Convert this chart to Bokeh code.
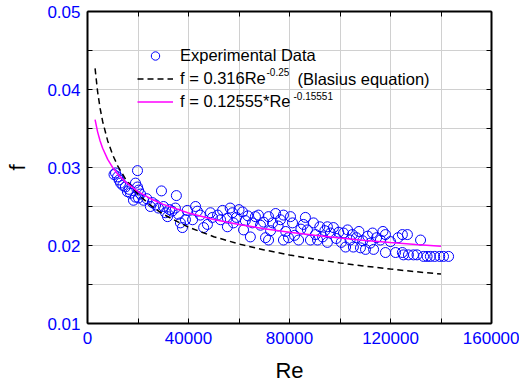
from bokeh.plotting import figure
from bokeh.models import (Range1d, LinearAxis, FixedTicker, PrintfTickFormatter,
                          Legend, LegendItem, Label)
from bokeh.embed import file_html
from bokeh.resources import INLINE

# ---- data ----
exp_re = [10500, 11100, 11900, 12500, 13100, 14000, 15000, 15800, 16500, 17000,
          18200, 19000, 19000, 19800, 19800, 20200, 20200, 21000, 22200, 23500,
          24900, 25700, 27000, 28100, 29300, 30100, 30900, 31700, 32500, 33500,
          34800, 35200, 36000, 36800, 37600, 38800, 39500,
          41600, 42800, 43500, 44700, 46000, 47500, 48700, 49500, 51500, 52700,
          53500, 55400, 55400, 56500, 57400, 57800, 59000, 60000, 61400, 61800,
          62500, 63500, 64500, 65300, 66500,
          67700, 68500, 69700, 70500, 71700, 71700, 72500, 73300, 74500, 75500,
          76400, 77600, 77600, 78500, 79600, 80400, 81200, 82000, 83600, 84500,
          85500, 86300, 87100, 88300, 89500, 90300, 91100, 92000, 93100, 94000,
          95000, 95000, 96200,
          97400, 98500, 99500, 100500, 101400, 102200, 103000, 104000, 104900, 105300,
          106500, 107500, 108100, 109000, 110100, 111000, 112000, 112900, 113300, 114500,
          116000, 117000, 118000, 118000, 120000, 122000, 123000, 124700, 124700, 125100,
          126700, 127100, 129100, 130500, 131900, 133100, 134500, 135800, 137500, 139500,
          141000, 143000]
exp_f = [0.0291, 0.0293, 0.0288, 0.0284, 0.0280, 0.0277, 0.0275, 0.0269, 0.0272, 0.0267,
         0.0258, 0.0262, 0.0280, 0.0275, 0.0296, 0.0261, 0.0271, 0.0266, 0.0258, 0.0260,
         0.0250, 0.0255, 0.0252, 0.0248, 0.0270, 0.0250, 0.0242, 0.0237, 0.0246, 0.0244,
         0.0248, 0.0264, 0.0240, 0.0229, 0.0223, 0.0233, 0.0245,
         0.0233, 0.0250, 0.0244, 0.0239, 0.0223, 0.0227, 0.0242, 0.0236, 0.0239, 0.0233,
         0.0245, 0.0235, 0.0224, 0.0248, 0.0242, 0.0229, 0.0236, 0.0246, 0.0243, 0.0220,
         0.0232, 0.0238, 0.0211, 0.0229, 0.0237,
         0.0239, 0.0226, 0.0230, 0.0210, 0.0237, 0.0207, 0.0219, 0.0229, 0.0241, 0.0225,
         0.0233, 0.0239, 0.0207, 0.0218, 0.0210, 0.0237, 0.0229, 0.0213, 0.0207, 0.0221,
         0.0227, 0.0236, 0.0220, 0.0207, 0.0229, 0.0214, 0.0207, 0.0224, 0.0211, 0.0219,
         0.0224, 0.0204, 0.0216,
         0.0223, 0.0209, 0.0217, 0.0204, 0.0216, 0.0198, 0.0220, 0.0207, 0.0214, 0.0198,
         0.0210, 0.0218, 0.0197, 0.0206, 0.0195, 0.0212, 0.0203, 0.0216, 0.0195, 0.0210,
         0.0207, 0.0218, 0.0214, 0.0191, 0.0205, 0.0191, 0.0210, 0.0214, 0.0191, 0.0188,
         0.0214, 0.0188, 0.0188, 0.0188, 0.0207, 0.0186, 0.0186, 0.0186, 0.0186, 0.0186,
         0.0186, 0.0186]

curve_re = [3000, 4000, 5000, 6000, 8000, 10000, 12000, 15000, 20000, 25000, 30000,
            40000, 50000, 60000, 70000, 80000, 90000, 100000, 110000, 120000, 130000, 140000]
blasius_f = [0.04270, 0.03973, 0.03758, 0.03590, 0.03341, 0.03160, 0.03019, 0.02855,
             0.02657, 0.02513, 0.02401, 0.02234, 0.02113, 0.02019, 0.01943, 0.01879,
             0.01824, 0.01777, 0.01735, 0.01698, 0.01664, 0.01634]
fit_f = [0.03615, 0.03457, 0.03339, 0.03246, 0.03104, 0.02998, 0.02914, 0.02815,
         0.02691, 0.02600, 0.02527, 0.02416, 0.02334, 0.02269, 0.02215, 0.02170,
         0.02130, 0.02096, 0.02065, 0.02037, 0.02012, 0.01989]

x_major = [0, 40000, 80000, 120000, 160000]
x_minor = [20000, 60000, 100000, 140000]
y_major = [0.01, 0.02, 0.03, 0.04, 0.05]
y_minor = [0.015, 0.025, 0.035, 0.045]

legend_labels = ["Experimental Data", "f = 0.316Re", "f = 0.12555*Re"]
blasius_exp = "-0.25"
blasius_note = "(Blasius equation)"
fit_exp = "-0.15551"

FONT = "Liberation Sans"
BLUE = "#0000ff"
GRID = "#d0d0d0"

p = figure(width=519, height=385, output_backend="svg", toolbar_location=None,
           x_range=Range1d(0, 160000), y_range=Range1d(0.01, 0.05),
           min_border_left=87, min_border_right=28, min_border_top=11,
           min_border_bottom=61, background_fill_color="white",
           border_fill_color="white")
p.outline_line_color = None

xt = FixedTicker(ticks=x_major, minor_ticks=x_minor)
yt = FixedTicker(ticks=y_major, minor_ticks=y_minor)

for g in (p.xgrid, p.ygrid):
    g.grid_line_color = GRID
    g.grid_line_width = 1
    g.minor_grid_line_color = GRID
    g.minor_grid_line_width = 1
p.xgrid.ticker = xt
p.ygrid.ticker = yt

def style_axis(ax, ticker, show_labels):
    ax.ticker = ticker
    ax.axis_line_color = "black"
    ax.axis_line_width = 2
    ax.major_tick_in = 5
    ax.major_tick_out = 0
    ax.minor_tick_in = 5
    ax.minor_tick_out = 0
    ax.major_tick_line_color = "black"
    ax.minor_tick_line_color = "black"
    ax.major_tick_line_width = 1
    ax.minor_tick_line_width = 1
    if show_labels:
        ax.major_label_text_color = BLUE
        ax.major_label_text_font = FONT
        ax.major_label_text_font_size = "17px"
        ax.axis_label_text_font = FONT
        ax.axis_label_text_font_style = "normal"
        ax.axis_label_text_font_size = "22px"
        ax.axis_label_text_color = "black"
    else:
        ax.major_label_text_font_size = "0px"
        ax.major_label_text_color = None

xa = p.xaxis[0]
ya = p.yaxis[0]
style_axis(xa, xt, True)
style_axis(ya, yt, True)
xa.formatter = PrintfTickFormatter(format="%d")
ya.formatter = PrintfTickFormatter(format="%.2f")
xa.axis_label = "Re"
ya.axis_label = "f"
xa.major_label_standoff = 8
ya.major_label_standoff = 7
xa.axis_label_standoff = 11
ya.axis_label_standoff = 14

top = LinearAxis()
right = LinearAxis()
style_axis(top, xt, False)
style_axis(right, yt, False)
p.add_layout(top, "above")
p.add_layout(right, "right")

sc = p.scatter(exp_re, exp_f, marker="circle", size=10, fill_color=None,
               line_color=BLUE, line_width=1)
bl = p.line(curve_re, blasius_f, line_color="black", line_width=1.5, line_dash="6 4")
ft = p.line(curve_re, fit_f, line_color="#ff00ff", line_width=1.5)

legend = Legend(items=[
    LegendItem(label=legend_labels[0], renderers=[sc]),
    LegendItem(label=legend_labels[1], renderers=[bl]),
    LegendItem(label=legend_labels[2], renderers=[ft]),
], location=(50, 211))
legend.padding = 0
legend.spacing = 2
legend.label_height = 21
legend.glyph_height = 21
legend.glyph_width = 36
legend.label_standoff = 7
legend.label_text_font = FONT
legend.label_text_font_size = "16.5px"
legend.label_text_color = "black"
legend.border_line_color = None
legend.background_fill_alpha = 0
p.add_layout(legend)

# superscripts and trailing text of the legend (screen units from frame bottom-left)
def add_text(txt, sx, sy, size):
    p.add_layout(Label(x=sx, y=sy, x_units="screen", y_units="screen", text=txt,
                       text_font=FONT, text_font_size=size, text_color="black",
                       text_align="left", text_baseline="middle"))

add_text(blasius_exp, 179, 252, "10px")
add_text(blasius_note, 210, 245, "16.5px")
add_text(fit_exp, 206, 228, "10px")

open("out.html", "w").write(file_html(p, INLINE))
